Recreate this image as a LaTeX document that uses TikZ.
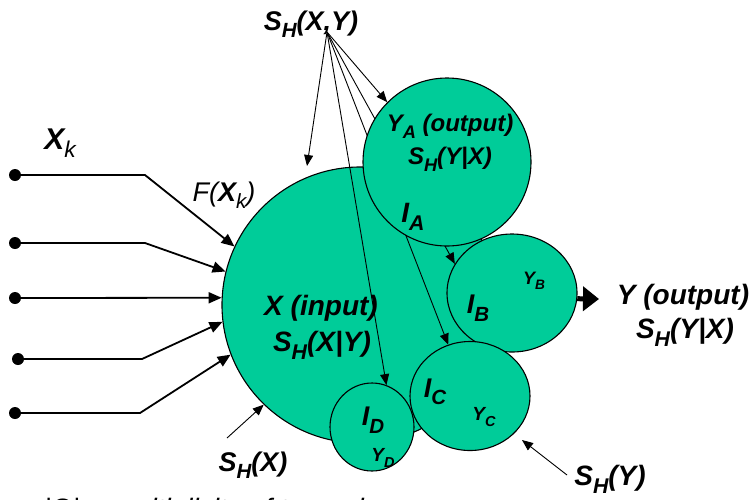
\documentclass[tikz,border=0pt]{standalone}
\usepackage{fontspec}
\setmainfont{Liberation Sans}
\usetikzlibrary{shapes.geometric,arrows.meta}
\definecolor{cgreen}{RGB}{0,204,153}
\newcommand{\lo}[1]{\raisebox{-0.28em}{\scalebox{0.76}{#1}}}
\newcommand{\bifont}[1]{\fontsize{#1}{#1}\selectfont\bfseries\itshape}
\pgfdeclarelayer{xl}
\pgfdeclarelayer{ln}
\pgfsetlayers{xl,ln,main}
\begin{document}
\begin{tikzpicture}[x=1pt,y=-1pt,
  blob/.style={ellipse, draw=black, line width=1.1pt, fill=cgreen, inner sep=0pt},
  thinarrow/.style={draw=black, line width=0.9pt, -{Triangle[length=11pt,width=9pt]}},
  inarrow/.style={draw=black, line width=1.8pt, -{Triangle[length=13pt,width=11pt]}},
  outarrow/.style={draw=black, line width=5pt, -{Triangle[length=16pt,width=24pt]}},
  dot/.style={circle, fill=black, inner sep=0pt, minimum size=12pt},
  lbl/.style={inner sep=0pt, font=\bifont{#1}}]
\useasboundingbox (0,0) rectangle (751,499);

% circles
\begin{pgfonlayer}{xl}
\node[blob, minimum width=276pt, minimum height=276pt] (X) at (360,305) {};
\end{pgfonlayer}
\node[blob, minimum width=168pt, minimum height=168pt] (A) at (447,162) {};
\node[blob, minimum width=130pt, minimum height=118pt] (B) at (512,293) {};
\node[blob, minimum width=120pt, minimum height=109pt] (C) at (470,396) {};
\node[blob, minimum width=84pt, minimum height=88pt] (D) at (372,427) {};

% arrows from S_H(X,Y)
\coordinate (src) at (327,32);
\coordinate (tx) at (307,166);
\begin{pgfonlayer}{ln}
\draw[thinarrow] (src) -- (tx);
\draw[thinarrow] (src) -- (A.135);
\draw[thinarrow] (src) -- (B.153);
\draw[thinarrow] (src) -- (C.113.5);
\draw[thinarrow] (src) -- (D.71.6);
\end{pgfonlayer}

% inputs
\node[dot] (d1) at (15,175) {};
\node[dot] (d2) at (15,243) {};
\node[dot] (d3) at (15,298) {};
\node[dot] (d4) at (18,359) {};
\node[dot] (d5) at (15,413) {};
\coordinate (b1) at (145,175);
\coordinate (b2) at (145,243);
\coordinate (b4) at (142,359);
\coordinate (b5) at (140,413);
\draw[inarrow] (d1.center) -- (b1) -- (X.155);
\draw[inarrow] (d2.center) -- (b2) -- (X.166.5);
\draw[inarrow] (d3.center) -- (X.177);
\draw[inarrow] (d4.center) -- (b4) -- (X.187);
\draw[inarrow] (d5.center) -- (b5) -- (X.201);

% output
\coordinate (yt) at (599,299);
\draw[outarrow] (B.-5) -- (yt);

% S_H(X), S_H(Y) arrows
\coordinate (shxS) at (227,438);
\draw[thinarrow] (shxS) -- (X.226.5);
\coordinate (shyS) at (567,475);
\coordinate (shyT) at (522,440);
\draw[thinarrow] (shyS) -- (shyT);

% labels
\node[lbl=27] (sxy) at (311,24) {S\lo{H}(X,Y)};
\node[lbl=30] (xk) at (60,143) {X\lo{\mdseries k}};
\node[lbl=27] (fxk) at (224,195) {{\mdseries F(}X\lo{\mdseries k}{\mdseries )}};
\node[lbl=28] (xin) at (321,308) {X (input)};
\node[lbl=28] (xsh) at (322,345) {S\lo{H}(X|Y)};
\node[lbl=24] (ya) at (450,126) {Y\lo{A} (output)};
\node[lbl=24] (ysh) at (450,159) {S\lo{H}(Y|X)};
\node[lbl=28] (ia) at (413,217) {I\lo{A}};
\node[lbl=27] (ib) at (478,308) {I\lo{B}};
\node[lbl=18] (yb) at (534,281) {Y\lo{B}};
\node[lbl=27] (ic) at (435,392) {I\lo{C}};
\node[lbl=19] (yc) at (484,417) {Y\lo{C}};
\node[lbl=27] (id) at (373,420) {I\lo{D}};
\node[lbl=19] (yd) at (383,458) {Y\lo{D}};
\node[lbl=28] (yout) at (683,297) {Y (output)};
\node[lbl=28] (youtsh) at (685,332) {S\lo{H}(Y|X)};
\node[lbl=27] (shx) at (253,465) {S\lo{H}(X)};
\node[lbl=28] (shy) at (610,479) {S\lo{H}(Y)};

% cut-off caption line
\begin{scope}
\clip (0,0) rectangle (751,499);
\node[inner sep=0pt, anchor=base west, font=\fontsize{28}{28}\selectfont] (omega) at (45,518) {|Ω| – \textit{multiplicity of terms in}};
\end{scope}
\end{tikzpicture}
\end{document}
